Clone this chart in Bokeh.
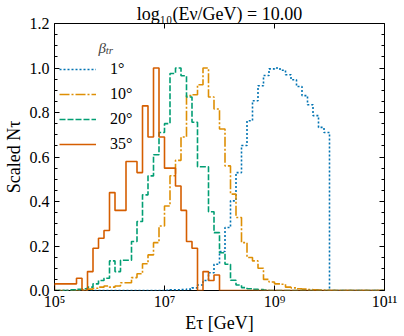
import numpy as np
from bokeh.plotting import figure
from bokeh.models import (Legend, LegendItem, FixedTicker, LogAxis, LinearAxis,
                          Label, PrintfTickFormatter, CustomJSTickFormatter)
from bokeh.embed import file_html
from bokeh.resources import INLINE

# ---------------- data ----------------
# 60 log-spaced bins between 10^5 and 10^11 GeV
log_e_min, log_e_max, n_bins = 5.0, 11.0, 60
bin_edges = np.logspace(log_e_min, log_e_max, n_bins + 1)

beta_labels = ["1°", "10°", "20°", "35°"]

counts_1deg = [
    0, 0, 0, 0, 0, 0, 0, 0, 0, 0,
    0, 0, 0, 0, 0, 0, 0, 0, 0, 0,
    0.001, 0.003, 0.003, 0.004, 0.006, 0.012, 0.025, 0.045, 0.08, 0.118,
    0.175, 0.283, 0.403, 0.53, 0.652, 0.763, 0.853, 0.92, 0.966, 0.996,
    1.0, 0.99, 0.97, 0.947, 0.917, 0.876, 0.835, 0.786, 0.733, 0.71,
    0, 0, 0, 0, 0, 0, 0, 0, 0, 0,
]
counts_10deg = [
    0, 0, 0, 0, 0, 0.003, 0.006, 0.01, 0.015, 0.02,
    0.015, 0.02, 0.035, 0.035, 0.058, 0.075, 0.12, 0.16, 0.215, 0.29,
    0.38, 0.516, 0.585, 0.69, 0.876, 0.88, 0.925, 1.0, 0.87, 0.816,
    0.726, 0.56, 0.433, 0.328, 0.215, 0.148, 0.133, 0.1, 0.05, 0.038,
    0.03, 0.028, 0.015, 0.012, 0.008, 0.006, 0.004, 0.003, 0.002, 0.001,
    0, 0, 0, 0, 0, 0, 0, 0, 0, 0,
]
counts_20deg = [
    0, 0, 0, 0.003, 0.005, 0.008, 0.015, 0.03, 0.045, 0.055,
    0.133, 0.085, 0.136, 0.136, 0.22, 0.31, 0.43, 0.515, 0.61, 0.71,
    0.75, 0.975, 1.0, 0.965, 0.87, 0.756, 0.556, 0.556, 0.354, 0.26,
    0.17, 0.118, 0.046, 0.025, 0.013, 0.008, 0.005, 0.004, 0.002, 0,
    0, 0, 0, 0, 0, 0, 0, 0, 0, 0,
    0, 0, 0, 0, 0, 0, 0, 0, 0, 0,
]
counts_35deg = [
    0.03, 0.03, 0.03, 0.03, 0.055, 0.0, 0.085, 0.19, 0.235, 0.27,
    0.44, 0.36, 0.36, 0.58, 0.58, 0.53, 0.83, 0.69, 1.0, 0.69,
    0.55, 0.55, 0.47, 0.36, 0.22, 0.19, 0.0, 0.085, 0.045, 0.07,
    0, 0, 0, 0, 0, 0, 0, 0, 0, 0,
    0, 0, 0, 0, 0, 0, 0, 0, 0, 0,
    0, 0, 0, 0, 0, 0, 0, 0, 0, 0,
]

x_tick_values = [1e5, 1e7, 1e9, 1e11]
x_tick_labels = ["10⁵", "10⁷", "10⁹", "10¹¹"]
y_tick_values = [0.0, 0.2, 0.4, 0.6, 0.8, 1.0, 1.2]
y_minor_values = [0.05, 0.1, 0.15, 0.25, 0.3, 0.35, 0.45, 0.5, 0.55, 0.65, 0.7,
                  0.75, 0.85, 0.9, 0.95, 1.05, 1.1, 1.15]

title_text = "log₁₀(Eν/GeV) = 10.00"

# ---------------- styles ----------------
FONT = "Liberation Serif"
colors = ["#0173B2", "#DE8F05", "#029E73", "#D55E00"]
dashes = ["2 2", "10 2 2 2", "6 2", "solid"]

p = figure(width=404, height=336, x_axis_type="log", x_range=(1e5, 1e11),
           y_range=(0, 1.2), output_backend="svg", toolbar_location=None,
           min_border_left=50, min_border_right=20, min_border_top=23,
           min_border_bottom=46)
p.title.text = title_text
p.title.align = "center"
p.title.text_font = FONT
p.title.text_font_size = "18px"
p.title.text_font_style = "normal"
p.title.text_color = "black"
p.title.standoff = 0
p.title.offset = 0

p.xgrid.visible = False
p.ygrid.visible = False
p.outline_line_color = "black"
p.outline_line_width = 1
p.background_fill_color = "white"
p.border_fill_color = "white"


def style_axis(ax):
    ax.major_tick_in = 5
    ax.major_tick_out = 0
    ax.minor_tick_in = 3
    ax.minor_tick_out = 0
    ax.major_tick_line_color = "black"
    ax.minor_tick_line_color = "black"
    ax.axis_line_color = None
    ax.major_label_text_font = FONT
    ax.major_label_text_font_size = "16px"
    ax.major_label_text_color = "black"
    ax.axis_label_text_font = FONT
    ax.axis_label_text_font_size = "18px"
    ax.axis_label_text_font_style = "normal"
    ax.axis_label_text_color = "black"


xa = p.xaxis[0]
style_axis(xa)
xa.ticker = FixedTicker(ticks=x_tick_values, minor_ticks=[])
xa.formatter = CustomJSTickFormatter(
    args=dict(vals=x_tick_values, labs=x_tick_labels),
    code="""
    const i = vals.findIndex(v => Math.abs(Math.log10(v) - Math.log10(tick)) < 1e-6);
    return i >= 0 ? labs[i] : '';
    """)
xa.axis_label = "Eτ [GeV]"
xa.major_label_standoff = 2
xa.axis_label_standoff = 0

ya = p.yaxis[0]
style_axis(ya)
ya.ticker = FixedTicker(ticks=y_tick_values, minor_ticks=y_minor_values)
ya.formatter = PrintfTickFormatter(format="%.1f")
ya.axis_label = "Scaled Nτ"
ya.major_label_standoff = 5
ya.axis_label_standoff = 3

top_axis = LogAxis(ticker=FixedTicker(ticks=x_tick_values, minor_ticks=[]),
                   formatter=CustomJSTickFormatter(code="return '';"))
style_axis(top_axis)
top_axis.major_label_text_font_size = "0px"
top_axis.major_label_standoff = 0
p.add_layout(top_axis, "above")

right_axis = LinearAxis(ticker=FixedTicker(ticks=y_tick_values, minor_ticks=y_minor_values),
                        formatter=CustomJSTickFormatter(code="return '';"))
style_axis(right_axis)
right_axis.major_label_text_font_size = "0px"
right_axis.major_label_standoff = 0
p.add_layout(right_axis, "right")

# ---------------- step histograms ----------------
series = [counts_1deg, counts_10deg, counts_20deg, counts_35deg]
x_step = np.concatenate([[bin_edges[0]], bin_edges])
items = []
for lab, cnt, col, dash in zip(beta_labels, series, colors, dashes):
    y_step = np.concatenate([[0.0], np.asarray(cnt, dtype=float), [0.0]])
    r = p.step(x_step, y_step, mode="after", line_color=col, line_width=1.6,
               line_dash=dash)
    items.append(LegendItem(label=lab, renderers=[r]))

legend = Legend(items=items, location=(5, 136), border_line_color=None,
                background_fill_alpha=0, label_text_font=FONT,
                label_text_font_size="16px", label_text_color="black",
                glyph_width=37, glyph_height=20, label_height=20,
                label_standoff=14, spacing=5, padding=10, margin=0)
p.add_layout(legend)

# legend title (beta_tr)
p.add_layout(Label(x=10 ** 5.80, y=1.092, text="β", text_font=FONT,
                   text_font_style="italic", text_font_size="15px",
                   text_color="#444444", text_baseline="alphabetic"))
p.add_layout(Label(x=10 ** 5.93, y=1.079, text="tr", text_font=FONT,
                   text_font_style="italic", text_font_size="11px",
                   text_color="#444444", text_baseline="alphabetic"))

open("out.html", "w").write(file_html(p, INLINE))
